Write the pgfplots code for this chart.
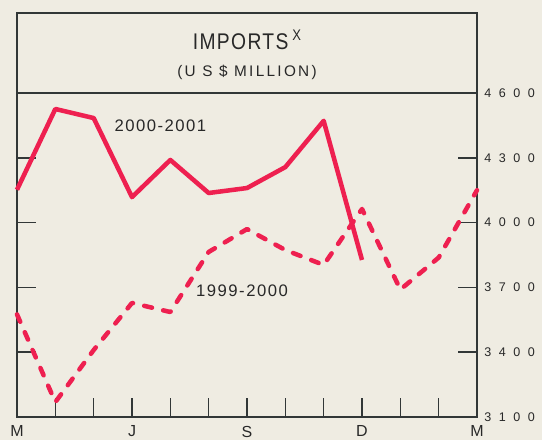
\documentclass[border=0pt]{standalone}
\usepackage{fontspec}
\setmainfont{Liberation Sans}
\newfontfamily\titlefont{Liberation Sans}[FakeStretch=0.85,LetterSpace=6]
\newfontfamily\subfont{Liberation Sans}[LetterSpace=15]
\newfontfamily\tickfont{Liberation Sans}[LetterSpace=60]
\newfontfamily\labfont{Liberation Sans}[LetterSpace=9]
\newfontfamily\monfont{Liberation Sans}
\usepackage{pgfplots}
\pgfplotsset{compat=1.18}
\definecolor{bgcol}{RGB}{239,236,226}
\definecolor{linecol}{RGB}{238,32,80}
\definecolor{axiscol}{RGB}{50,55,55}
\definecolor{txtcol}{RGB}{40,40,40}
\begin{document}
\begin{tikzpicture}
\fill[bgcol] (-12.75pt,-17.25pt) rectangle (393.75pt,312.75pt);
\begin{axis}[
  at={(0,0)}, anchor=south west,
  scale only axis, width=345pt, height=243pt,
  xmin=0, xmax=12, ymin=3100, ymax=4600,
  xtick={0,1,...,12},
  xticklabels={M,,,J,,,S,,,D,,,M},
  ytick={3100,3400,3700,4000,4300,4600},
  tick align=inside,
  xtick pos=bottom,
  ytick pos=both,
  yticklabel pos=right,
  major tick length=14pt,
  axis line style={line width=1.1pt, draw=axiscol},
  every tick/.style={line width=1.1pt, draw=axiscol},
  /pgf/number format/assume math mode=true,
  /pgf/number format/1000 sep={},
  yticklabel style={font=\tickfont\fontsize{9.4}{11}\selectfont, text=txtcol, anchor=west, xshift=2pt},
  xticklabel style={font=\monfont\fontsize{12}{14}\selectfont, text=txtcol, anchor=north, inner sep=0pt, yshift=-6.5pt},
  clip=false,
]
\addplot[linecol, line width=3.4pt, line join=round] coordinates {
 (0,4152) (1,4526) (2,4484) (3,4118) (4,4290) (5,4137) (6,4160) (7,4257) (8,4471) (9,3827)
};
\addplot[linecol, line width=3.4pt, line join=round, line cap=round, dash pattern=on 6pt off 8.6pt] coordinates {
 (0,3575) (1,3169) (2,3410) (3,3628) (4,3586) (5,3864) (6,3970) (7,3873) (8,3804) (9,4063) (10,3690) (11,3838) (12,4150)
};
\draw[axiscol, line width=1.1pt] (rel axis cs:0,1) rectangle ([yshift=60pt]rel axis cs:1,1);
\node[text=txtcol, font=\titlefont\fontsize{17}{19}\selectfont] at ([yshift=39.75pt]rel axis cs:0.5,1) {IMPORTS\kern3pt\raisebox{6.5pt}{\fontsize{11.5}{12}\selectfont X}};
\node[text=txtcol, font=\subfont\fontsize{11.5}{13}\selectfont] at ([yshift=15.75pt]rel axis cs:0.5,1) {(U S \$ MILLION)};
\node[text=txtcol, font=\labfont\fontsize{12.5}{14}\selectfont] at (axis cs:3.74,4447) {2000-2001};
\node[text=txtcol, font=\labfont\fontsize{12.5}{14}\selectfont] at (axis cs:5.87,3683) {1999-2000};
\end{axis}
\pgfresetboundingbox
\useasboundingbox (-12.75pt,-17.25pt) rectangle (393.75pt,312.75pt);
\end{tikzpicture}
\end{document}
